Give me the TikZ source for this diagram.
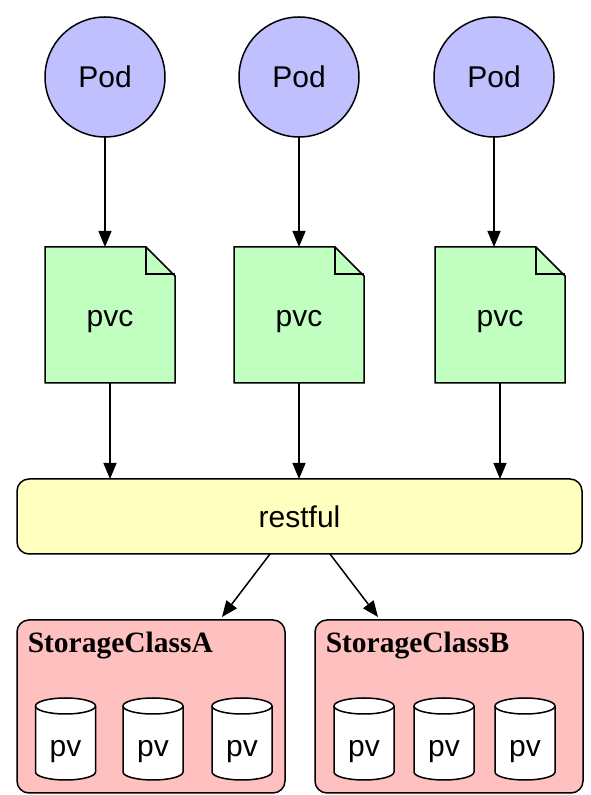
\documentclass[tikz,border=0pt]{standalone}
\usepackage{fontspec}
\setmainfont{Liberation Sans}
\newfontfamily\titlefont{Liberation Serif}
\usetikzlibrary{arrows.meta,calc}
\definecolor{podc}{HTML}{C0C0FF}
\definecolor{pvcc}{HTML}{C0FFC0}
\definecolor{restc}{HTML}{FFFFC0}
\definecolor{scc}{HTML}{FFC0C0}
\begin{document}
\begin{tikzpicture}[x=1pt,y=1pt,line width=1.5pt,
  lbl/.style={font=\fontsize{30}{36}\selectfont, inner sep=0pt},
  podnode/.style={circle, draw, fill=podc, minimum size=120pt, inner sep=0pt, outer sep=0pt, font=\fontsize{30}{36}\selectfont},
  pvcframe/.style={rectangle, minimum width=130pt, minimum height=136pt, inner sep=0pt, outer sep=0pt},
  restnode/.style={rectangle, rounded corners=12pt, draw, fill=restc, minimum width=565pt, minimum height=75pt, inner sep=0pt, outer sep=0pt, font=\fontsize{30}{36}\selectfont},
  scnode/.style={rectangle, rounded corners=12pt, draw, fill=scc, minimum width=268pt, minimum height=173pt, inner sep=0pt, outer sep=0pt},
  sctitle/.style={font=\titlefont\bfseries\fontsize{29.5}{34}\selectfont, inner sep=0pt, anchor=base west},
  arr/.style={-{Triangle[length=16pt,width=13pt]}},
  pvcyl/.pic={
    \filldraw[fill=white] (-30,33) -- (-30,-33) arc[start angle=180,end angle=360,x radius=30pt,y radius=8pt] -- (30,33) arc[start angle=0,end angle=180,x radius=30pt,y radius=8pt] -- cycle;
    \draw (-30,33) arc[start angle=180,end angle=360,x radius=30pt,y radius=8pt];
    \node[lbl, anchor=base] (-t) at (0,-18) {pv};
  }
]
\useasboundingbox (0,0) rectangle (591,795);

% Pods
\node[podnode] (p1) at (105,718) {Pod};
\node[podnode] (p2) at (299,718) {Pod};
\node[podnode] (p3) at (494,718) {Pod};

% pvc documents
\foreach \n/\x in {c1/110,c2/299,c3/500}{
  \node[pvcframe] (\n) at (\x,480) {};
  \filldraw[fill=pvcc] (\n.south west) -- (\n.north west) -- ($(\n.north east)+(-29,0)$)
     -- ($(\n.north east)+(0,-29)$) -- (\n.south east) -- cycle;
  \draw ($(\n.north east)+(-29,0)$) -- ($(\n.north east)+(-29,-27)$) -- ($(\n.north east)+(0,-27)$);
  \node[lbl, anchor=base] (\n-t) at ($(\n.center)+(0,-12)$) {pvc};
}

% restful
\node[restnode] (rest) at (299.5,278.5) {restful};

% storage classes
\node[scnode] (scA) at (151,88.5) {};
\node[scnode] (scB) at (449,88.5) {};
\node[sctitle] (tA) at (27,142) {StorageClassA};
\node[sctitle] (tB) at (325,142) {StorageClassB};

\pic (a1) at (65.5,56) {pvcyl};
\pic (a2) at (153,56) {pvcyl};
\pic (a3) at (242,56) {pvcyl};
\pic (b1) at (364,56) {pvcyl};
\pic (b2) at (444,56) {pvcyl};
\pic (b3) at (525,56) {pvcyl};

% connectors
\foreach \p/\c in {p1/c1,p2/c2,p3/c3}{
  \draw[arr] (\p.south) -- (\p.south |- \c.north);
  \draw[arr] (\c.south) -- (\c.south |- rest.north);
}
\draw[arr] ($(rest.south)+(-29.5,0)$) -- ($(scA.north)+(71,3)$);
\draw[arr] ($(rest.south)+(30.5,0)$) -- ($(scB.north)+(-71,3)$);
\end{tikzpicture}
\end{document}
